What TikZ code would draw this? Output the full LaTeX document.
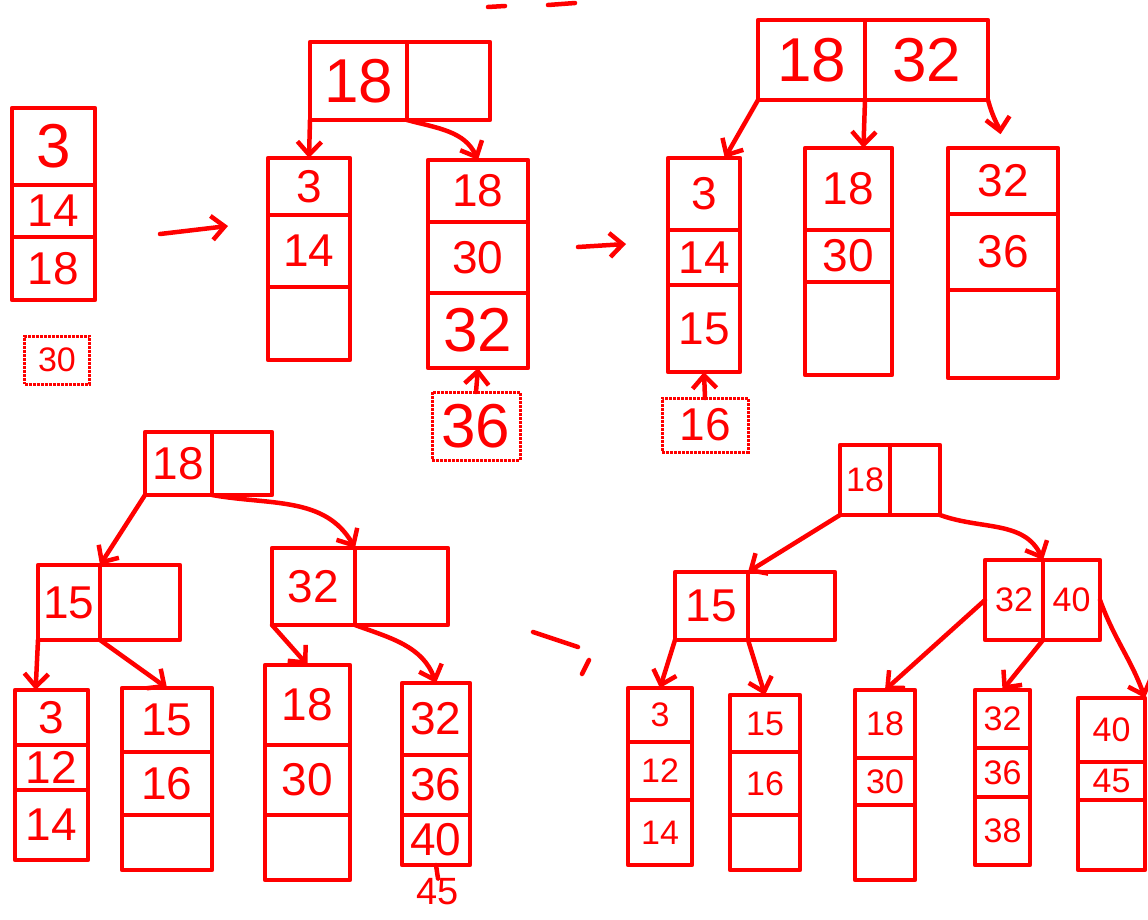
\documentclass[tikz,border=0pt]{standalone}
\usepackage{fontspec}
\setmainfont{Liberation Sans}
\usetikzlibrary{positioning,arrows.meta}

\begin{document}
\begin{tikzpicture}[x=1pt, y=-1pt,
  pen/.style={draw=red, line width=4.5pt, line cap=round, line join=round},
  cell/.style={pen, rectangle, inner sep=0pt, outer sep=0pt, text=red},
  hint/.style={draw=red, line width=3pt, densely dotted, inner sep=0pt, outer sep=0pt, text=red},
  link/.style={pen, -{Straight Barb[length=13pt, width=24pt]}},
  huge/.style={font=\fontsize{62}{64}\selectfont},
  big/.style={font=\fontsize{46}{48}\selectfont},
  small/.style={font=\fontsize{34}{36}\selectfont}]
\useasboundingbox (0,0) rectangle (1148,919);

% stray marks at the top edge
\draw[pen] (488,7) -- (505,6);
\draw[pen] (548,5) -- (575,3);

% step 1: one full leaf
\node[cell, huge, minimum width=83pt, minimum height=77pt] (l1a1) at (53.5,146.5) {3};
\node[cell, big, minimum width=83pt, minimum height=52pt, below=0pt of l1a1] (l1a2) {14};
\node[cell, big, minimum width=83pt, minimum height=63pt, below=0pt of l1a2] (l1a3) {18};
\node[hint, small, minimum width=65pt, minimum height=48pt] (add30) at (57,360) {30};

\coordinate (go1a) at (160,234);
\coordinate (go1b) at (228,226);
\draw[link] (go1a) -- (go1b);

% step 2: split
\node[cell, huge, minimum width=97pt, minimum height=78pt] (r2a) at (358.5,81) {18};
\node[cell, minimum width=83pt, minimum height=78pt, right=0pt of r2a] (r2b) {};
\node[cell, big, minimum width=82pt, minimum height=57pt] (l2a1) at (309,186.5) {3};
\node[cell, big, minimum width=82pt, minimum height=72pt, below=0pt of l2a1] (l2a2) {14};
\node[cell, big, minimum width=82pt, minimum height=73pt, below=0pt of l2a2] (l2a3) {};
\node[cell, big, minimum width=100pt, minimum height=62pt] (l2b1) at (478,191) {18};
\node[cell, big, minimum width=100pt, minimum height=71pt, below=0pt of l2b1] (l2b2) {30};
\node[cell, huge, minimum width=100pt, minimum height=75pt, below=0pt of l2b2] (l2b3) {32};
\node[hint, huge, minimum width=88pt, minimum height=68pt] (add36) at (476,426) {36};
\draw[link] (r2a.south west) -- (l2a1.north);
\draw[link] (r2a.south east) to[out=-15, in=115] (l2b1.north);
\draw[link] (add36.north) -- (l2b3.south);

\coordinate (go2a) at (578,247);
\coordinate (go2b) at (626,244);
\draw[link] (go2a) -- (go2b);

% step 3: root with two keys
\node[cell, huge, minimum width=107pt, minimum height=80pt] (r3a) at (811.5,60) {18};
\node[cell, huge, minimum width=123pt, minimum height=80pt, right=0pt of r3a] (r3b) {32};
\node[cell, big, minimum width=72pt, minimum height=72pt] (l3a1) at (704,194) {3};
\node[cell, big, minimum width=72pt, minimum height=55pt, below=0pt of l3a1] (l3a2) {14};
\node[cell, big, minimum width=72pt, minimum height=87pt, below=0pt of l3a2] (l3a3) {15};
\node[cell, big, minimum width=87pt, minimum height=82pt] (l3b1) at (848.5,189) {18};
\node[cell, big, minimum width=87pt, minimum height=52pt, below=0pt of l3b1] (l3b2) {30};
\node[cell, big, minimum width=87pt, minimum height=93pt, below=0pt of l3b2] (l3b3) {};
\node[cell, big, minimum width=110pt, minimum height=66pt] (l3c1) at (1003,181) {32};
\node[cell, big, minimum width=110pt, minimum height=76pt, below=0pt of l3c1] (l3c2) {36};
\node[cell, big, minimum width=110pt, minimum height=88pt, below=0pt of l3c2] (l3c3) {};
\node[hint, big, minimum width=86pt, minimum height=54pt] (add16) at (705,425) {16};
\draw[link] (r3a.south west) -- (l3a1.60);
\draw[link] (r3a.south east) -- (l3b1.70);
\draw[link, shorten >=14pt] (r3b.south east) to[out=-75, in=100] (l3c1.north);
\draw[link] (add16.north) -- (l3a3.south);

% step 4: three levels
\node[cell, big, minimum width=67pt, minimum height=63pt] (r4a) at (178.5,463.5) {18};
\node[cell, minimum width=60pt, minimum height=63pt, right=0pt of r4a] (r4b) {};
\node[cell, big, minimum width=62pt, minimum height=75pt] (i4a1) at (69,602.5) {15};
\node[cell, minimum width=80pt, minimum height=75pt, right=0pt of i4a1] (i4a2) {};
\node[cell, big, minimum width=83pt, minimum height=77pt] (i4b1) at (313.5,586.5) {32};
\node[cell, minimum width=93pt, minimum height=77pt, right=0pt of i4b1] (i4b2) {};
\node[cell, big, minimum width=73pt, minimum height=55pt] (l4a1) at (51.5,717.5) {3};
\node[cell, big, minimum width=73pt, minimum height=45pt, below=0pt of l4a1] (l4a2) {12};
\node[cell, big, minimum width=73pt, minimum height=70pt, below=0pt of l4a2] (l4a3) {14};
\node[cell, big, minimum width=90pt, minimum height=64pt] (l4b1) at (167,720) {15};
\node[cell, big, minimum width=90pt, minimum height=63pt, below=0pt of l4b1] (l4b2) {16};
\node[cell, big, minimum width=90pt, minimum height=55pt, below=0pt of l4b2] (l4b3) {};
\node[cell, big, minimum width=85pt, minimum height=80pt] (l4c1) at (307.5,705) {18};
\node[cell, big, minimum width=85pt, minimum height=70pt, below=0pt of l4c1] (l4c2) {30};
\node[cell, big, minimum width=85pt, minimum height=65pt, below=0pt of l4c2] (l4c3) {};
\node[cell, big, minimum width=68pt, minimum height=72pt] (l4d1) at (436,719) {32};
\node[cell, big, minimum width=68pt, minimum height=60pt, below=0pt of l4d1] (l4d2) {36};
\node[cell, big, minimum width=68pt, minimum height=50pt, below=0pt of l4d2] (l4d3) {40};
\node[text=red, font=\fontsize{38}{40}\selectfont, inner sep=0pt] (add45) at (438,892) {45};
\draw[pen] (add45.north) -- (l4d3.south);

\draw[link] (r4a.south west) -- (i4a1.north east);
\draw[link] (r4a.south east) to[out=-10, in=120] (i4b1.north east);
\draw[link] (i4a1.south west) -- (l4a1.120);
\draw[link] (i4a1.south east) -- (l4b1.north);
\draw[link] (i4b1.south west) -- (l4c1.north);
\draw[link] (i4b1.south east) to[out=-20, in=110] (l4d1.north);

\coordinate (go3a) at (533,632);
\coordinate (go3b) at (578,647);
\coordinate (go3c) at (589,660);
\coordinate (go3d) at (582,674);
\draw[pen] (go3a) -- (go3b);
\draw[pen] (go3c) -- (go3d);

% step 5: internal split
\node[cell, small, minimum width=50pt, minimum height=70pt] (r5a) at (865,480) {18};
\node[cell, minimum width=50pt, minimum height=70pt, right=0pt of r5a] (r5b) {};
\node[cell, big, minimum width=73pt, minimum height=68pt] (i5a1) at (711.5,606) {15};
\node[cell, minimum width=87pt, minimum height=68pt, right=0pt of i5a1] (i5a2) {};
\node[cell, small, minimum width=58pt, minimum height=80pt] (i5b1) at (1014,600) {32};
\node[cell, small, minimum width=57pt, minimum height=80pt, right=0pt of i5b1] (i5b2) {40};
\node[cell, small, minimum width=64pt, minimum height=54pt] (l5a1) at (660,715) {3};
\node[cell, small, minimum width=64pt, minimum height=58pt, below=0pt of l5a1] (l5a2) {12};
\node[cell, small, minimum width=64pt, minimum height=65pt, below=0pt of l5a2] (l5a3) {14};
\node[cell, small, minimum width=70pt, minimum height=57pt] (l5b1) at (765,723.5) {15};
\node[cell, small, minimum width=70pt, minimum height=63pt, below=0pt of l5b1] (l5b2) {16};
\node[cell, small, minimum width=70pt, minimum height=55pt, below=0pt of l5b2] (l5b3) {};
\node[cell, small, minimum width=60pt, minimum height=68pt] (l5c1) at (885,724) {18};
\node[cell, small, minimum width=60pt, minimum height=47pt, below=0pt of l5c1] (l5c2) {30};
\node[cell, small, minimum width=60pt, minimum height=75pt, below=0pt of l5c2] (l5c3) {};
\node[cell, small, minimum width=55pt, minimum height=58pt] (l5d1) at (1002.5,719) {32};
\node[cell, small, minimum width=55pt, minimum height=49pt, below=0pt of l5d1] (l5d2) {36};
\node[cell, small, minimum width=55pt, minimum height=68pt, below=0pt of l5d2] (l5d3) {38};
\node[cell, small, minimum width=67pt, minimum height=64pt] (l5e1) at (1111.5,730) {40};
\node[cell, small, minimum width=67pt, minimum height=38pt, below=0pt of l5e1] (l5e2) {45};
\node[cell, small, minimum width=67pt, minimum height=70pt, below=0pt of l5e2] (l5e3) {};
\draw[link] (r5a.south west) -- (i5a1.north east);
\draw[link] (r5b.south east) to[out=-20, in=115] (i5b2.north west);
\draw[link] (i5a1.south west) -- (l5a1.north);
\draw[link] (i5a1.south east) -- (l5b1.north);
\draw[link] (i5b1.west) -- (l5c1.north);
\draw[link] (i5b1.south east) -- (l5d1.north);
\draw[link] (i5b2.east) to[out=-70, in=110] (l5e1.north east);
\end{tikzpicture}
\end{document}
